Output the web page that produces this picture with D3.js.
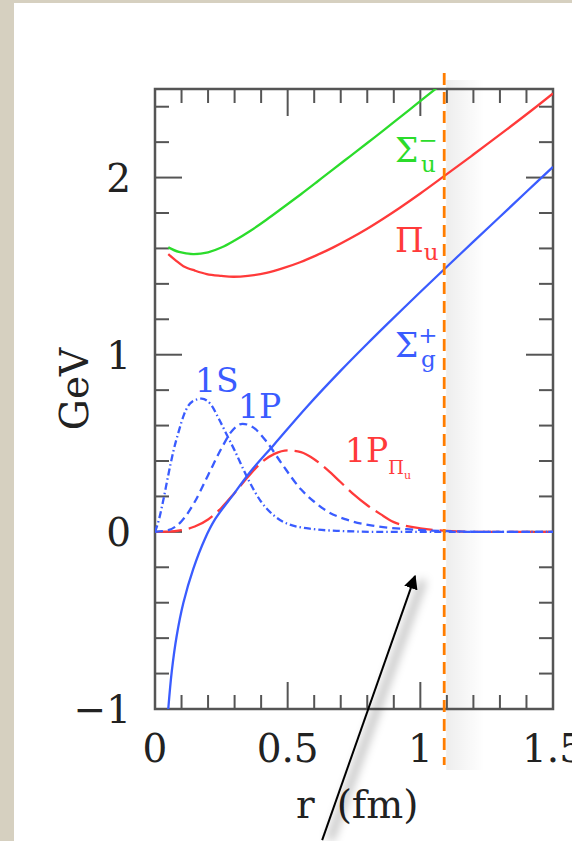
<!DOCTYPE html>
<meta charset="utf-8">
<head>
  <script src="https://d3js.org/d3.v7.min.js"></script>
  <style>
    body { margin: 0; background: #d6d0c0; }
    svg { display: block; }
  </style>
</head>
<body>
<div id="display"></div>
<script>

// static potentials (GeV) vs r (fm)
var sigmaUminusR = [0.05, 0.09, 0.144, 0.20, 0.25, 0.30, 0.36, 0.42, 0.48, 0.55, 0.61, 0.67, 0.735, 0.80, 0.86, 0.93, 0.99, 1.063];
var sigmaUminusV = [1.606, 1.58, 1.568, 1.578, 1.605, 1.645, 1.70, 1.762, 1.828, 1.906, 1.975, 2.045, 2.12, 2.195, 2.265, 2.348, 2.42, 2.507];

var piUR = [0.05, 0.08, 0.107, 0.15, 0.195, 0.25, 0.295, 0.35, 0.42, 0.48, 0.547, 0.61, 0.672, 0.735, 0.798, 0.86, 0.923, 1.0, 1.087, 1.2, 1.326, 1.42, 1.5];
var piUV = [1.568, 1.53, 1.50, 1.475, 1.455, 1.445, 1.44, 1.445, 1.462, 1.487, 1.522, 1.562, 1.606, 1.656, 1.71, 1.768, 1.83, 1.91, 2.005, 2.13, 2.272, 2.38, 2.475];

var sigmaGplusR = [0.05, 0.063, 0.082, 0.107, 0.144, 0.188, 0.226, 0.30, 0.358, 0.45, 0.572, 0.70, 0.80, 0.873, 1.0, 1.087, 1.2, 1.3, 1.4, 1.5];
var sigmaGplusV = [-1.0, -0.79, -0.585, -0.40, -0.21, -0.04, 0.07, 0.22, 0.337, 0.495, 0.705, 0.91, 1.062, 1.17, 1.354, 1.478, 1.638, 1.779, 1.92, 2.06];

// radial wavefunctions (arbitrary units, drawn on the GeV axis)
var wf1SR = [0, 0.015, 0.03, 0.05, 0.07, 0.09, 0.11, 0.14, 0.176, 0.21, 0.24, 0.27, 0.30, 0.35, 0.40, 0.45, 0.50, 0.60, 0.70, 0.85, 1.0, 1.5];
var wf1SV = [0, 0.07, 0.17, 0.32, 0.46, 0.57, 0.665, 0.735, 0.752, 0.72, 0.64, 0.55, 0.46, 0.30, 0.17, 0.09, 0.045, 0.015, 0.005, 0, 0, 0];

var wf1PR = [0, 0.05, 0.1, 0.15, 0.2, 0.25, 0.29, 0.33, 0.37, 0.42, 0.48, 0.55, 0.6, 0.65, 0.72, 0.82, 0.95, 1.1, 1.25, 1.5];
var wf1PV = [0, 0.01, 0.06, 0.17, 0.32, 0.47, 0.57, 0.61, 0.59, 0.51, 0.38, 0.24, 0.17, 0.115, 0.07, 0.035, 0.015, 0.004, 0, 0];

var wf1PpiR = [0, 0.05, 0.1, 0.15, 0.2, 0.25, 0.3, 0.35, 0.4, 0.45, 0.5, 0.55, 0.6, 0.65, 0.7, 0.75, 0.8, 0.85, 0.9, 0.95, 1.0, 1.1, 1.2, 1.5];
var wf1PpiV = [0, 0.001, 0.01, 0.03, 0.07, 0.135, 0.22, 0.31, 0.39, 0.44, 0.46, 0.45, 0.41, 0.35, 0.28, 0.21, 0.15, 0.10, 0.055, 0.032, 0.02, 0.005, 0, 0];

var xMajor = [0, 0.5, 1, 1.5];
var xMajorLabels = ["0", "0.5", "1", "1.5"];
var yMajor = [-1, 0, 1, 2];
var yMajorLabels = ["\u22121", "0", "1", "2"];
var rCut = 1.09;

var W = 572, H = 841;
var margin = {top: 89, right: 19, bottom: 132, left: 155};

var svg = d3.select("#display").append("svg")
    .attr("width", W).attr("height", H);

var defs = svg.append("defs");
var grad = defs.append("linearGradient").attr("id", "shade");
grad.append("stop").attr("offset", "0").attr("stop-color", "#000").attr("stop-opacity", 0.07);
grad.append("stop").attr("offset", "1").attr("stop-color", "#000").attr("stop-opacity", 0);
defs.append("filter").attr("id", "blur").attr("x", "-50%").attr("y", "-50%").attr("width", "200%").attr("height", "200%")
  .append("feGaussianBlur").attr("stdDeviation", 5);
defs.append("marker").attr("id", "head")
    .attr("viewBox", "0 0 10 10").attr("refX", 9).attr("refY", 5)
    .attr("markerWidth", 7).attr("markerHeight", 7).attr("orient", "auto")
  .append("path").attr("d", "M0,0 L10,5 L0,10 z").attr("fill", "#000");

// page
svg.append("rect").attr("x", 14).attr("y", 3).attr("width", W - 14).attr("height", H - 3).attr("fill", "#fff");

var x = d3.scaleLinear().domain([0, 1.5]).range([margin.left, W - margin.right]);
var y = d3.scaleLinear().domain([-1, 2.5]).range([H - margin.bottom, margin.top]);

// soft shadow right of the cut line
svg.append("rect")
    .attr("x", x(rCut) + 2).attr("y", 80).attr("width", 38).attr("height", 690)
    .attr("fill", "url(#shade)");

var frameCol = "#555";
var g = svg.append("g");

// ticks on all four sides
var xMinor = d3.range(0.1, 1.5, 0.1);
var yMinor = d3.range(-0.8, 2.5, 0.2);
function isMajor(v) { return Math.abs(v - Math.round(v * 2) / 2) < 1e-6; }
function isMajorY(v) { return Math.abs(v - Math.round(v)) < 1e-6; }

xMinor.forEach(function(v) {
  var len = isMajor(v) ? 27 : 14;
  g.append("line").attr("x1", x(v)).attr("x2", x(v)).attr("y1", y(-1)).attr("y2", y(-1) - len)
    .attr("stroke", frameCol).attr("stroke-width", 2);
  g.append("line").attr("x1", x(v)).attr("x2", x(v)).attr("y1", y(2.5)).attr("y2", y(2.5) + len)
    .attr("stroke", frameCol).attr("stroke-width", 2);
});
yMinor.forEach(function(v) {
  var len = isMajorY(v) ? 27 : 14;
  g.append("line").attr("x1", x(0)).attr("x2", x(0) + len).attr("y1", y(v)).attr("y2", y(v))
    .attr("stroke", frameCol).attr("stroke-width", 2);
  g.append("line").attr("x1", x(1.5)).attr("x2", x(1.5) - len).attr("y1", y(v)).attr("y2", y(v))
    .attr("stroke", frameCol).attr("stroke-width", 2);
});

g.append("rect")
    .attr("x", x(0)).attr("y", y(2.5))
    .attr("width", x(1.5) - x(0)).attr("height", y(-1) - y(2.5))
    .attr("fill", "none").attr("stroke", frameCol).attr("stroke-width", 2.5);

// tick labels
var serif = "DejaVu Serif";
g.selectAll(".xl").data(xMajor).enter().append("text")
    .attr("x", function(d) { return x(d); })
    .attr("y", 762)
    .attr("text-anchor", "middle")
    .attr("font-family", serif).attr("font-size", 39).attr("fill", "#222")
    .text(function(d, i) { return xMajorLabels[i]; });

g.selectAll(".yl").data(yMajor).enter().append("text")
    .attr("x", 131)
    .attr("y", function(d) { return y(d); })
    .attr("dy", "0.36em")
    .attr("text-anchor", "end")
    .attr("font-family", serif).attr("font-size", 39).attr("fill", "#222")
    .text(function(d, i) { return yMajorLabels[i]; });

// axis titles
g.append("text")
    .attr("transform", "translate(88,389) rotate(-90)")
    .attr("text-anchor", "middle")
    .attr("font-family", serif).attr("font-size", 39).attr("fill", "#222")
    .text("GeV");

var xt = g.append("text")
    .attr("x", 296).attr("y", 818)
    .attr("font-family", serif).attr("font-size", 39).attr("fill", "#222");
xt.append("tspan").text("r");
xt.append("tspan").attr("dx", 22).text("(fm)");

// curves
var clip = defs.append("clipPath").attr("id", "plot");
clip.append("rect").attr("x", x(0)).attr("y", y(2.5)).attr("width", x(1.5) - x(0)).attr("height", y(-1) - y(2.5));

function pairs(rs, vs) { return rs.map(function(r, i) { return [r, vs[i]]; }); }

var smooth = d3.line()
    .x(function(d) { return x(d[0]); })
    .y(function(d) { return y(d[1]); })
    .curve(d3.curveCatmullRom.alpha(0.5));
var mono = d3.line()
    .x(function(d) { return x(d[0]); })
    .y(function(d) { return y(d[1]); })
    .curve(d3.curveMonotoneX);

var green = "#2bdc2b", red = "#ff3a3a", blue = "#3a5cff";
var curves = [
  {pts: pairs(wf1PpiR, wf1PpiV), col: red, dash: "27,7", line: mono},
  {pts: pairs(wf1PR, wf1PV), col: blue, dash: "8,5", line: mono},
  {pts: pairs(wf1SR, wf1SV), col: blue, dash: "7,3,1.5,3", line: mono},
  {pts: pairs(sigmaUminusR, sigmaUminusV), col: green, dash: null, line: smooth},
  {pts: pairs(piUR, piUV), col: red, dash: null, line: smooth},
  {pts: pairs(sigmaGplusR, sigmaGplusV), col: blue, dash: null, line: smooth}
];

var cg = svg.append("g").attr("clip-path", "url(#plot)");
curves.forEach(function(c) {
  cg.append("path")
    .attr("d", c.line(c.pts))
    .attr("fill", "none")
    .attr("stroke", c.col)
    .attr("stroke-width", 2.3)
    .attr("stroke-dasharray", c.dash);
});

// cut line
svg.append("line")
    .attr("x1", x(rCut)).attr("x2", x(rCut))
    .attr("y1", 73).attr("y2", 765)
    .attr("stroke", "#ff7d00").attr("stroke-width", 2.8)
    .attr("stroke-dasharray", "12,7");

// labels on curves
function label(px, py, main, col, size, sub, sup, subSize) {
  var t = svg.append("text").attr("x", px).attr("y", py)
    .attr("font-family", serif).attr("font-size", size).attr("fill", col);
  t.append("tspan").text(main);
  if (sup) {
    t.append("tspan").attr("font-size", subSize).attr("dy", -14).text(sup);
    t.append("tspan").attr("font-size", subSize).attr("x", px + 26).attr("dy", 24).text(sub);
  } else if (sub) {
    t.append("tspan").attr("font-size", subSize).attr("dy", 8).text(sub);
  }
  return t;
}

label(395, 162, "\u03a3", green, 33, "u", "\u2212", 23);
label(395, 252, "\u03a0", red, 33, "u", null, 23);
label(395, 357, "\u03a3", blue, 33, "g", "+", 23);
label(195, 392, "1S", blue, 33);
label(238, 418, "1P", blue, 33);
var pl = label(345, 462, "1P", red, 33);
pl.append("tspan").attr("font-size", 18).attr("dy", 12).text("\u03a0");
pl.append("tspan").attr("font-size", 11).attr("dy", 5).text("u");

// annotation arrow (data coordinates)
var arrowFrom = [0.63, -1.74], arrowTo = [0.98, -0.25];
svg.append("line")
    .attr("x1", x(arrowFrom[0]) + 8).attr("y1", y(arrowFrom[1]))
    .attr("x2", x(arrowTo[0]) + 8).attr("y2", y(arrowTo[1]) + 4)
    .attr("stroke", "#000").attr("stroke-opacity", 0.3).attr("stroke-width", 6)
    .attr("filter", "url(#blur)");
svg.append("line")
    .attr("x1", x(arrowFrom[0])).attr("y1", y(arrowFrom[1]))
    .attr("x2", x(arrowTo[0])).attr("y2", y(arrowTo[1]))
    .attr("stroke", "#000").attr("stroke-width", 2)
    .attr("marker-end", "url(#head)");

</script>
</body>
